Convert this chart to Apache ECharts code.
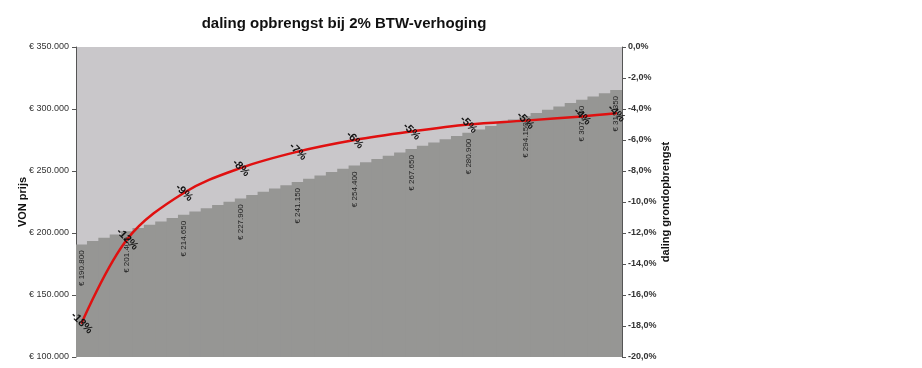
<!DOCTYPE html>
<html><head><meta charset="utf-8">
<script src="https://cdn.jsdelivr.net/npm/echarts@6/dist/echarts.min.js"></script>
<style>html,body{margin:0;padding:0;background:#fff}#c{width:922px;height:368px}</style>
</head><body><div id="c"></div>
<script>
var titleText = 'daling opbrengst bij 2% BTW-verhoging';
var vonPrices = [190800,193450,196100,198750,201400,204050,206700,209350,212000,214650,
217300,219950,222600,225250,227900,230550,233200,235850,238500,241150,
243800,246450,249100,251750,254400,257050,259700,262350,265000,267650,
270300,272950,275600,278250,280900,283550,286200,288850,291500,294150,
296800,299450,302100,304750,307400,310050,312700,315350];
var labeledIdx = [0,4,9,14,19,24,29,34,39,44,47];
var dalingValues = [-0.178,-0.124,-0.094,-0.078,-0.0675,-0.060,-0.0545,-0.050,-0.0475,-0.0448,-0.0428];
var leftTicks = [100000,150000,200000,250000,300000,350000];
var rightTicks = [-0.20,-0.18,-0.16,-0.14,-0.12,-0.10,-0.08,-0.06,-0.04,-0.02,0];

function euro(v){ return '\u20ac ' + String(Math.round(v)).replace(/\B(?=(\d{3})+(?!\d))/g,'.'); }

var cats = vonPrices.map(function(v,i){return String(i);});
var barData = vonPrices.map(function(v,i){
  var show = labeledIdx.indexOf(i) >= 0;
  return {value:v, label:{show:show}};
});
var lineData = labeledIdx.map(function(k,j){ return [k + 0.5, dalingValues[j]]; });

var chart = echarts.init(document.getElementById('c'));
chart.setOption({
  animation:false,
  title:{text:titleText,left:339,top:11,textAlign:'center',
    textStyle:{fontFamily:'Liberation Sans',fontSize:15,fontWeight:'bold',color:'#111'}},
  grid:{left:76,right:300,top:47,bottom:11,show:true,backgroundColor:'#c9c7ca',borderWidth:0},
  xAxis:[{type:'category',data:cats,boundaryGap:true,show:false},
         {type:'value',min:0,max:vonPrices.length,show:false}],
  yAxis:[{
    type:'value',min:100000,max:350000,interval:50000,position:'left',
    name:'VON prijs',nameLocation:'middle',nameGap:48,nameRotate:90,nameMoveOverlap:false,
    nameTextStyle:{fontFamily:'Liberation Sans',fontSize:11,fontWeight:'bold',color:'#111'},
    axisLine:{show:true,lineStyle:{color:'#555',width:1}},
    axisTick:{show:true,inside:false,length:4,lineStyle:{color:'#555'}},
    splitLine:{show:false},
    axisLabel:{formatter:function(v){return euro(v);},fontFamily:'Liberation Sans',fontSize:9,color:'#333',margin:7}
  },{
    type:'value',min:-0.2,max:0,interval:0.02,position:'right',
    name:'daling grondopbrengst',nameLocation:'middle',nameGap:38,nameRotate:90,nameMoveOverlap:false,
    nameTextStyle:{fontFamily:'Liberation Sans',fontSize:11,fontWeight:'bold',color:'#111'},
    axisLine:{show:true,lineStyle:{color:'#555',width:1}},
    axisTick:{show:true,inside:false,length:4,lineStyle:{color:'#555'}},
    splitLine:{show:false},
    axisLabel:{formatter:function(v){return (v*100).toFixed(1).replace('.',',')+'%';},
      fontFamily:'Liberation Sans',fontSize:9,fontWeight:'bold',color:'#333',margin:6}
  }],
  series:[{
    type:'bar',data:barData,barWidth:12.2,xAxisIndex:0,yAxisIndex:0,
    itemStyle:{color:'#969694'},
    label:{show:false,position:'insideTop',rotate:90,align:'right',verticalAlign:'middle',distance:6,
      formatter:function(p){return euro(p.value);},fontFamily:'Liberation Sans',fontSize:8,color:'#222'}
  },{
    type:'line',data:lineData,xAxisIndex:1,yAxisIndex:1,smooth:0.35,
    symbol:'circle',symbolSize:2,showSymbol:true,itemStyle:{color:'#e01010'},
    lineStyle:{color:'#e01010',width:2.5},
    label:{show:true,position:'inside',rotate:-45,
      formatter:function(p){return Math.round(p.value[1]*100)+'%';},
      fontFamily:'Liberation Sans',fontSize:11,fontWeight:'bold',color:'#111'},
    z:5
  }]
});
</script></body></html>
